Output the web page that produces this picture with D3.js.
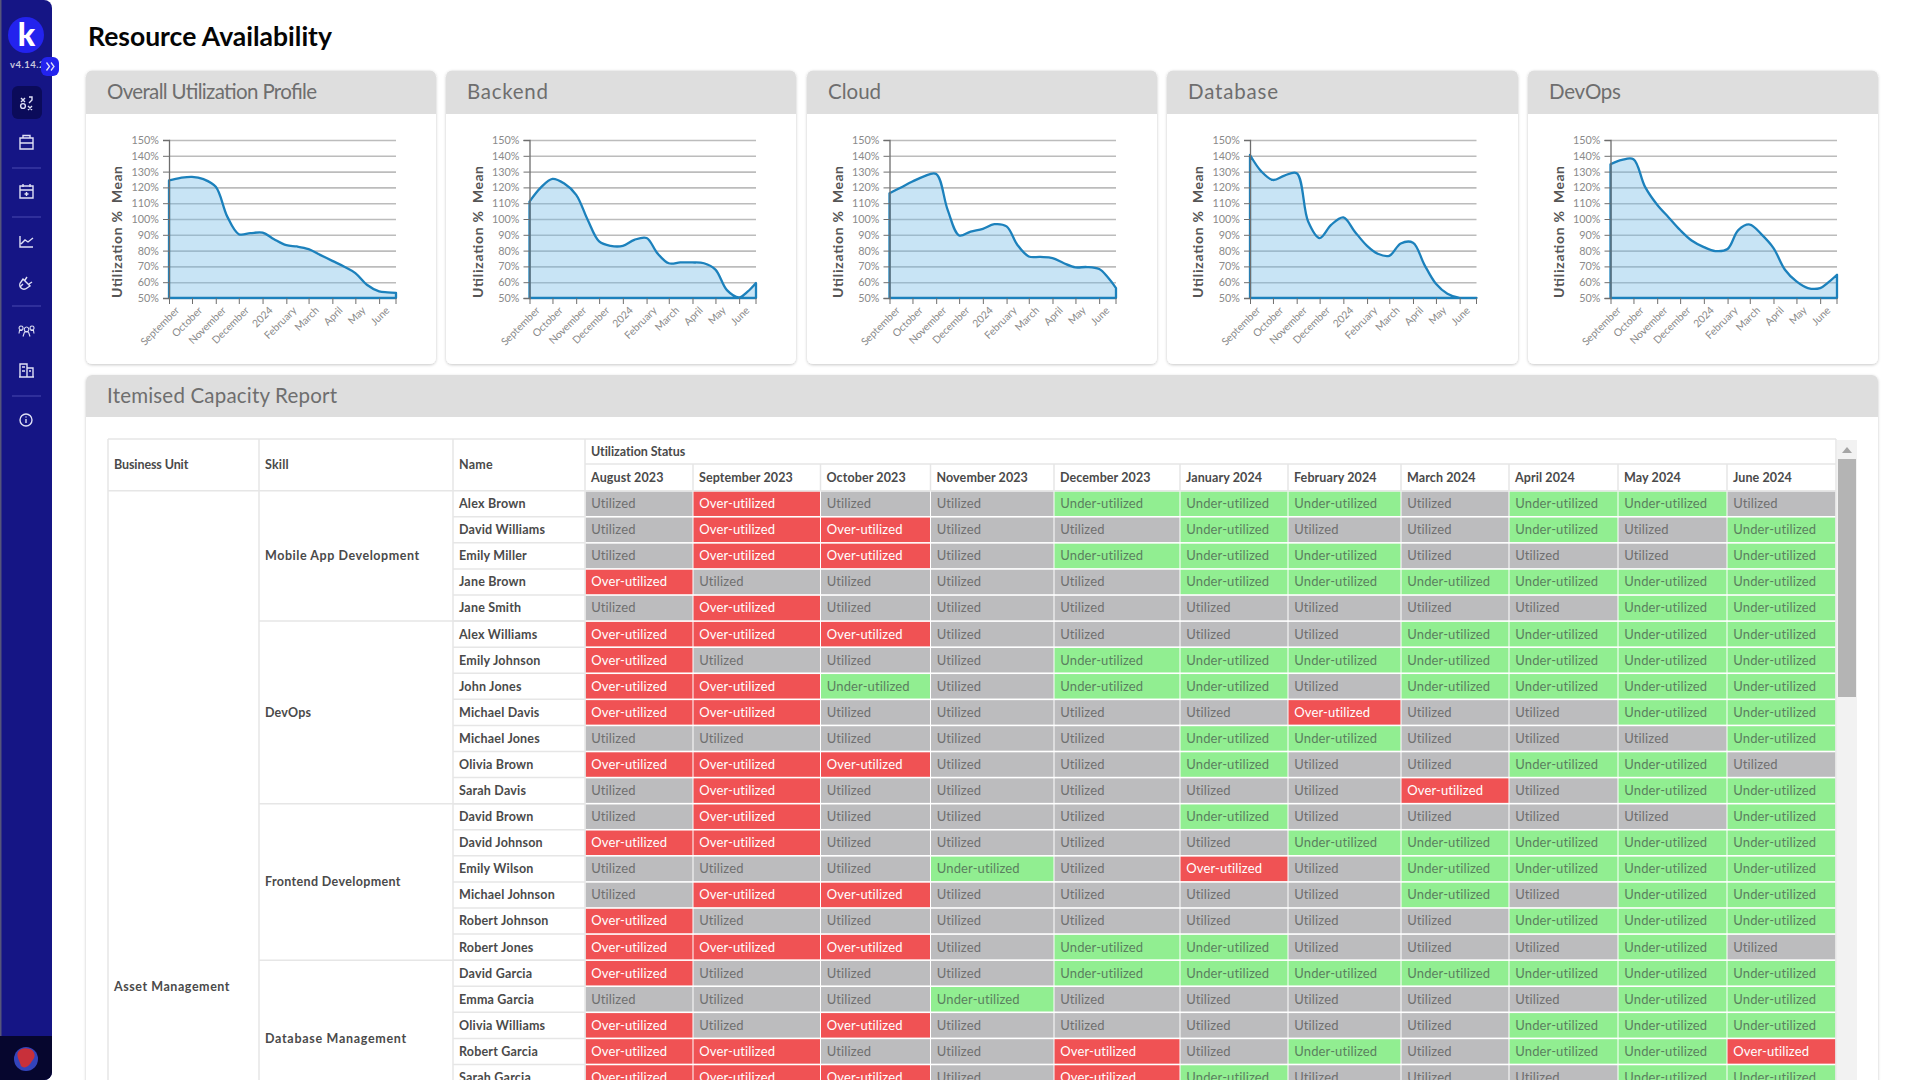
<!DOCTYPE html>
<html><head><meta charset="utf-8">
<script src="https://cdn.jsdelivr.net/npm/d3@7"></script>
<style>
html,body{margin:0;padding:0;background:#fff;overflow:hidden;width:1920px;height:1080px}
svg{display:block;font-family:Lato,"Open Sans",sans-serif}
</style></head><body><svg id="c" width="1920" height="1080"></svg>
<script>
// ---------- data ----------
const pageTitle = "Resource Availability";
const reportTitle = "Itemised Capacity Report";
const chartTitles = ["Overall Utilization Profile","Backend","Cloud","Database","DevOps"];
const sampleDates = ["2023-09-01","2023-09-16","2023-10-01","2023-10-16","2023-11-01","2023-11-16","2023-12-01","2023-12-16","2024-01-01","2024-01-16","2024-02-01","2024-02-15","2024-03-01","2024-03-16","2024-04-01","2024-04-16","2024-05-01","2024-05-16","2024-06-01","2024-06-12","2024-06-23"];
const overallValues = [124.4,126,126.7,125.2,120.4,101.5,90.4,91,91.4,87.2,83.4,82.6,80.9,77.3,73.5,70,65.8,58.4,54.2,53.6,53.2];
const backendValues = [111,120,125.4,122.6,115.3,99.5,85.8,83,83,86.8,88,78.4,72,72.5,72.5,72,68,55,50.4,54,59.5];
const cloudValues   = [116.3,120,123.7,127,128.5,105.8,89.6,92,93.8,96.7,95.3,83.7,76.3,76,75.3,72,69.4,69.6,68.3,63.3,56.3];
const databaseValues= [140.5,130,124.7,127.5,129,98.4,87.9,96.3,101,92,83,78,76.7,84.5,85,71,59,52.7,50,50,50];
const devopsValues  = [134.6,137.4,137.8,120.5,109,101,93,86.4,82.2,79.7,81,93,96.5,90.4,81.6,67.9,60.5,56.3,56.3,60,64.7];
const yTicks = [50,60,70,80,90,100,110,120,130,140,150];

const months = ["August 2023","September 2023","October 2023","November 2023","December 2023","January 2024","February 2024","March 2024","April 2024","May 2024","June 2024"];
const businessUnit = "Asset Management";
const skills = ["Mobile App Development","DevOps","Frontend Development","Database Management"];
const skillRowCounts = [5,7,6,6];
const businessRowCount = 38;
const names = ["Alex Brown","David Williams","Emily Miller","Jane Brown","Jane Smith","Alex Williams","Emily Johnson","John Jones","Michael Davis","Michael Jones","Olivia Brown","Sarah Davis","David Brown","David Johnson","Emily Wilson","Michael Johnson","Robert Johnson","Robert Jones","David Garcia","Emma Garcia","Olivia Williams","Robert Garcia","Sarah Garcia"];
const U="Utilized",O="Over-utilized",N="Under-utilized";
const statuses = [
[U,O,U,U,N,N,N,U,N,N,U],
[U,O,O,U,U,N,U,U,N,U,N],
[U,O,O,U,N,N,N,U,U,U,N],
[O,U,U,U,U,N,N,N,N,N,N],
[U,O,U,U,U,U,U,U,U,N,N],
[O,O,O,U,U,U,U,N,N,N,N],
[O,U,U,U,N,N,N,N,N,N,N],
[O,O,N,U,N,N,U,N,N,N,N],
[O,O,U,U,U,U,O,U,U,N,N],
[U,U,U,U,U,N,N,U,U,U,N],
[O,O,O,U,U,N,U,U,N,N,U],
[U,O,U,U,U,U,U,O,U,N,N],
[U,O,U,U,U,N,U,U,U,U,N],
[O,O,U,U,U,U,N,N,N,N,N],
[U,U,U,N,U,O,U,N,N,N,N],
[U,O,O,U,U,U,U,N,U,N,N],
[O,U,U,U,U,U,U,U,N,N,N],
[O,O,O,U,N,N,U,U,U,N,U],
[O,U,U,U,N,N,N,N,N,N,N],
[U,U,U,N,U,U,U,U,U,N,N],
[O,U,O,U,U,U,U,U,N,N,N],
[O,O,U,U,O,U,N,U,N,N,O],
[O,O,O,U,O,N,U,U,U,N,N]];

// ---------- layout ----------
const svg = d3.select("#c");
const FONT_TBL = 13;
const panelEdges = [[86,436],[446,796],[807,1157],[1167,1518],[1528,1878]];
const plotEdges = [[169,396],[529.5,756],[889.5,1116],[1250,1476.5],[1610.5,1837]];
const titleWidths = [210,81,null,90,72];
const plotTop = 140, plotBottom = 298;
const seriesList = [overallValues,backendValues,cloudValues,databaseValues,devopsValues];
const statusFill = {[U]:"#bcbcbe",[O]:"#f05254",[N]:"#91ee91"};
const statusText = {[U]:"#6f6f6f",[O]:"#ffffff",[N]:"#5b7f5f"};
const defs = svg.append("defs");
defs.append("filter").attr("id","sh").attr("x","-3%").attr("y","-3%").attr("width","106%").attr("height","106%")
  .append("feDropShadow").attr("dx",0).attr("dy",1).attr("stdDeviation",1.5).attr("flood-color","#000").attr("flood-opacity",.22);

function panel(x0,x1,y0,y1,hb,title,tw){
  const g = svg.append("g");
  g.append("rect").attr("x",x0).attr("y",y0).attr("width",x1-x0).attr("height",y1-y0).attr("rx",6).attr("fill","#fff").attr("filter","url(#sh)");
  g.append("path").attr("d",`M${x0},${hb}V${y0+6}a6,6 0 0 1 6,-6H${x1-6}a6,6 0 0 1 6,6V${hb}Z`).attr("fill","#dedede");
  const tt=g.append("text").attr("x",x0+21).attr("y",y0+(hb-y0)/2+6.5).attr("font-size",20.5).attr("fill","#6e6e6e").text(title);
  if(tw) tt.attr("textLength",tw).attr("lengthAdjust","spacing");
}
svg.append("text").attr("x",88).attr("y",46).attr("font-size",26.5).attr("font-weight",700).attr("fill","#050505").text(pageTitle);

// ---------- charts ----------
const parse = d3.utcParse("%Y-%m-%d");
const dates = sampleDates.map(parse);
const xDomain = [dates[0],dates[dates.length-1]];
const monthName = d3.utcFormat("%B"), yearName = d3.utcFormat("%Y");
chartTitles.forEach((t,i)=>{
  const [px0,px1]=panelEdges[i], [x0,x1]=plotEdges[i];
  panel(px0,px1,70.5,364,114,t,titleWidths[i]);
  const x=d3.scaleUtc().domain(xDomain).range([x0,x1]);
  const y=d3.scaleLinear().domain([50,150]).range([plotBottom,plotTop]);
  const g=svg.append("g");
  defs.append("clipPath").attr("id","clip"+i).append("rect").attr("x",x0-3).attr("y",plotTop-3).attr("width",x1-x0+6).attr("height",plotBottom-plotTop+4.5);
  // gridlines
  g.append("g").attr("transform",`translate(${x0},0)`)
   .call(d3.axisLeft(y).tickValues(yTicks).tickSize(-(x1-x0)).tickFormat(""))
   .call(a=>a.select(".domain").remove())
   .selectAll("line").attr("stroke","#bcbcbc").attr("stroke-width",1.6);
  // area
  const values=seriesList[i];
  const area=d3.area().x((d,j)=>x(dates[j])).y0(y(50)).y1(d=>Math.min(y(50),y(d))).curve(d3.curveCatmullRom.alpha(0.5));
  g.append("path").attr("clip-path",`url(#clip${i})`).attr("d",area(values)).attr("fill","rgba(110,185,230,.38)").attr("stroke","#1c81bc").attr("stroke-width",2.3).attr("stroke-linejoin","round");
  // y axis
  const ya=g.append("g").attr("transform",`translate(${x0},0)`).call(d3.axisLeft(y).tickValues(yTicks).tickSize(6).tickPadding(4).tickFormat(d=>d+"%"));
  ya.select(".domain").attr("stroke","#6e6e6e").attr("stroke-width",1.3);
  ya.selectAll("line").attr("stroke","#6e6e6e");
  ya.selectAll("text").attr("fill","#8a8a8a").attr("font-size",10.8).attr("font-family","Lato");
  // x axis
  const xa=g.append("g").attr("transform",`translate(0,${plotBottom})`)
    .call(d3.axisBottom(x).ticks(d3.utcMonth.every(1)).tickSize(6).tickFormat(d=>d.getUTCMonth()===0?yearName(d):monthName(d)));
  xa.select(".domain").remove();
  xa.selectAll("line").attr("stroke","#6e6e6e");
  xa.append("line").attr("x1",x1).attr("x2",x1).attr("y1",0).attr("y2",6).attr("stroke","#6e6e6e");
  xa.selectAll("text").attr("fill","#8a8a8a").attr("font-size",10.4).attr("font-family","Lato")
    .attr("text-anchor","end").attr("dy",0).attr("y",0).attr("transform","translate(10.5,13) rotate(-45)");
  // y title
  const tx=x0-47;
  g.append("text").attr("transform",`translate(${tx},298) rotate(-90)`).attr("font-size",14).attr("font-weight",700).attr("fill","#555").attr("textLength",87).attr("lengthAdjust","spacing").text("Utilization %");
  g.append("text").attr("transform",`translate(${tx},203) rotate(-90)`).attr("font-size",14).attr("font-weight",700).attr("fill","#555").attr("textLength",37).attr("lengthAdjust","spacing").text("Mean");
});

// ---------- report ----------
panel(86,1878,375,1100,417,reportTitle,230);
const colEdges=[585,693,820.5,930.5,1054,1180,1288,1401,1509,1618,1727,1836];
const tblLeft=108, skillX=259, nameX=453, tblTop=439, headMid=464, bodyTop=490.7, rowH=26.08;
const line="#e6e6e6";
const t=svg.append("g");
const rowY=d3.scaleLinear().domain([0,1]).range([bodyTop,bodyTop+rowH]);
// cells
t.append("g").selectAll("g").data(statuses).join("g").each(function(row,ri){
  d3.select(this).selectAll("rect").data(row).join("rect")
    .attr("x",(d,ci)=>colEdges[ci]+.5).attr("y",rowY(ri)+.8)
    .attr("width",(d,ci)=>colEdges[ci+1]-colEdges[ci]-1).attr("height",rowH-1.6)
    .attr("fill",d=>statusFill[d]);
  d3.select(this).selectAll("text").data(row).join("text")
    .attr("x",(d,ci)=>colEdges[ci]+6.3).attr("y",rowY(ri)+rowH/2+4.4)
    .attr("font-size",FONT_TBL).attr("letter-spacing",".12").attr("fill",d=>statusText[d]).text(d=>d);
});
// grid lines
const vl=(x,y0,y1)=>t.append("line").attr("x1",x).attr("x2",x).attr("y1",y0).attr("y2",y1).attr("stroke",line).attr("stroke-width",1.5);
const hl=(x0,x1,y)=>t.append("line").attr("x1",x0).attr("x2",x1).attr("y1",y).attr("y2",y).attr("stroke",line).attr("stroke-width",1.5);
hl(tblLeft,colEdges[11],tblTop); hl(colEdges[0],colEdges[11],headMid); hl(tblLeft,colEdges[11],bodyTop);
[tblLeft,skillX,nameX,colEdges[0],colEdges[11]].forEach(x=>vl(x,tblTop,1080));
colEdges.slice(1,-1).forEach(x=>vl(x,headMid,bodyTop));
names.forEach((n,i)=>{ if(i>0) hl(nameX,colEdges[0],rowY(i)); });
let acc=0; skillRowCounts.forEach(c=>{acc+=c; if(rowY(acc)<1080) hl(skillX,colEdges[0],rowY(acc));});
// header text
const hdr=(x,y,s,ls=.2)=>t.append("text").attr("x",x).attr("y",y).attr("font-size",12.5).attr("font-weight",700).attr("letter-spacing",ls).attr("fill","#4a4a4a").text(s);
hdr(114,469,"Business Unit",-.1); hdr(265,469,"Skill"); hdr(459,469,"Name");
hdr(591,456,"Utilization Status",-.05);
months.forEach((m,i)=>hdr(colEdges[i]+6,482,m,.1));
// body labels
names.forEach((n,i)=>hdr(459,rowY(i)+rowH/2+4.4,n));
const skillSpacing=[.55,.2,.35,.7];
let st=0; skills.forEach((s,i)=>{hdr(265,rowY(st+skillRowCounts[i]/2)+4.4,s,skillSpacing[i]); st+=skillRowCounts[i];});
hdr(114,rowY(businessRowCount/2)+4.4,businessUnit,.55);
// scrollbar
svg.append("rect").attr("x",1837).attr("y",440).attr("width",20).attr("height",640).attr("fill","#f2f2f2");
svg.append("rect").attr("x",1838).attr("y",459).attr("width",18).attr("height",238).attr("fill","#b4b4b4");
svg.append("path").attr("d","M1842,453L1847,447L1852,453Z").attr("fill","#a5a5a5");

// ---------- sidebar ----------
const sb=svg.append("g");
sb.append("path").attr("d","M0,0H44a8,8 0 0 1 8,8V1072a8,8 0 0 1 -8,8H0Z").attr("fill","#151585");
sb.append("rect").attr("width",1.5).attr("height",1080).attr("fill","#55557a");
sb.append("path").attr("d","M0,1036H52V1072a8,8 0 0 1 -8,8H0Z").attr("fill","#06062e");
sb.append("circle").attr("cx",26).attr("cy",35).attr("r",18).attr("fill","#2323ee");
sb.append("text").attr("x",26.5).attr("y",46).attr("text-anchor","middle").attr("font-size",32).attr("font-weight",900).attr("fill","#fff").text("k");
sb.append("text").attr("x",10).attr("y",68).attr("font-size",9.5).attr("font-weight",700).attr("fill","#c9c9dd").attr("letter-spacing",".5").text("v4.14.2");
sb.append("rect").attr("x",41).attr("y",57).attr("width",18).attr("height",19).attr("rx",6).attr("fill","#2323ee");
sb.append("path").attr("d","M46.5,62.5l3,4l-3,4M51,62.5l3,4l-3,4").attr("fill","none").attr("stroke","#dfe0f5").attr("stroke-width",1.3);
sb.append("rect").attr("x",12).attr("y",86).attr("width",30).attr("height",33).attr("rx",6).attr("fill","#0b0b5a");
[168,217,306,396].forEach(y=>sb.append("line").attr("x1",12).attr("x2",41).attr("y1",y).attr("y2",y).attr("stroke","#4b4bb0").attr("stroke-width",1));
const ic=sb.append("g").attr("fill","none").attr("stroke","#dfe0f5").attr("stroke-width",1.4);
// strategy
ic.append("path").attr("d","M21,98l4,4m0,-4l-4,4M28,106l4,4m0,-4l-4,4M29,97h3v3l-3,3");
ic.append("circle").attr("cx",23).attr("cy",106).attr("r",2.4);
// briefcase
ic.append("path").attr("d","M20,138h13v11h-13zM23,138v-2.5h7v2.5M20,143h13");
// calendar
ic.append("path").attr("d","M20,186h13v12h-13zM20,190h13M23,184v3M30,184v3M26.5,192v4M24.5,194h4");
// chart
ic.append("path").attr("d","M20,236v11h13M21,244l4,-4l3,2l5,-4");
// plug
ic.append("path").attr("d","M20,287l3,-3M23,279l7,7l-3,2a4,4 0 0 1 -6,-6zM27,277l-2,3M32,282l-3,2");
// people
ic.append("path").attr("stroke-width",1.1).attr("d","M26.5,327a2.3,2.3 0 1 0 .1,0M23,336.5l1.5,-4.5h4l1.5,4.5M21,326a2,2 0 1 0 .1,0M19,333.5l0.5,-3h3M32,326a2,2 0 1 0 .1,0M34,333.5l-0.5,-3h-3");
// building
ic.append("path").attr("d","M20,377v-13h7v13M27,368h6v9M19,377h15M22,367h3M22,371h3M29,371h2");
// info
ic.append("circle").attr("cx",26).attr("cy",420).attr("r",6);
ic.append("path").attr("d","M26,419v4M26,416.5v1");
sb.append("ellipse").attr("cx",26).attr("cy",1059).attr("rx",12).attr("ry",12).attr("fill","#3344bb");
sb.append("path").attr("d","M18,1052c4,-5 10,-4 14,-2c4,4 3,8 0,11c-3,6 -8,8 -11,5c-1,-5 -5,-9 -3,-14Z").attr("fill","#c8303a");
</script></body></html>
